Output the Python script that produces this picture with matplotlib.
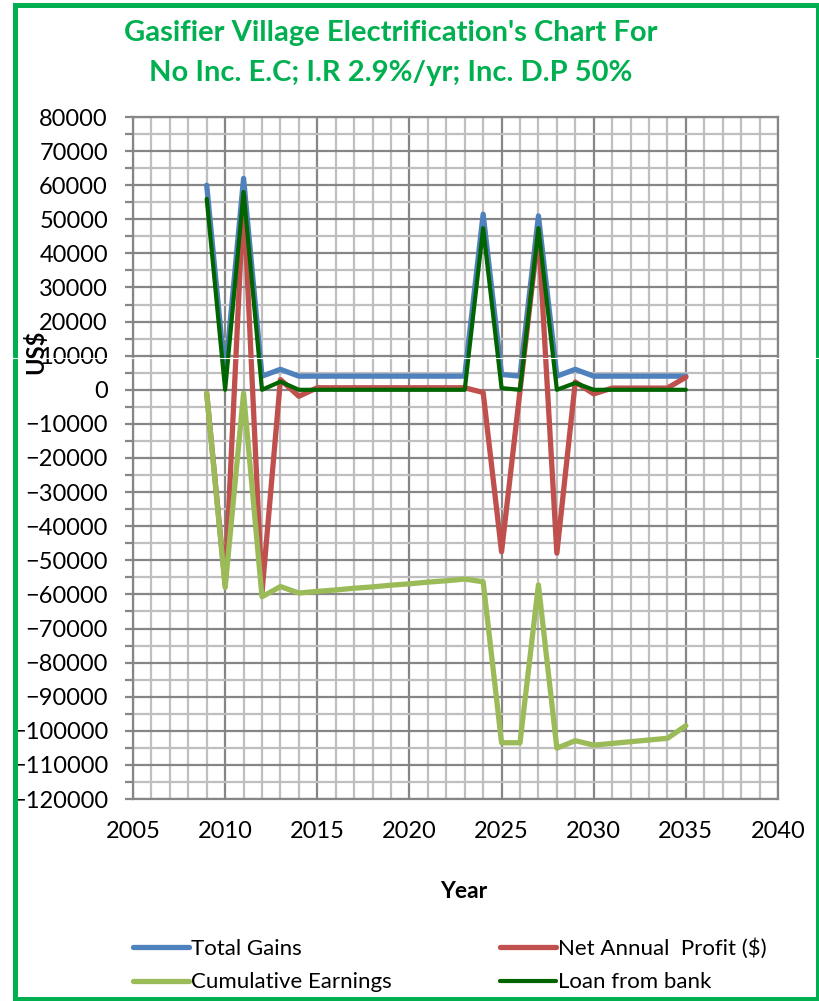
import matplotlib
matplotlib.use("Agg")
import matplotlib.pyplot as plt
from matplotlib.ticker import MultipleLocator
from matplotlib.patches import Rectangle
from matplotlib.lines import Line2D

plt.rcParams['font.family'] = ['Lato', 'DejaVu Sans']

years = list(range(2009, 2036))

total_gains = [60000, 4000, 62000, 4000, 6000, 4000, 4000, 4000, 4000, 4000,
               4000, 4000, 4000, 4000, 4000, 51500, 4500, 4000, 51000, 4000,
               6000, 4000, 4000, 4000, 4000, 4000, 4000]

net_profit = [-1000, -57000, 57000, -59500, 3000, -1900, 600, 600, 600, 600,
              600, 600, 600, 600, 600, -800, -47500, -300, 46300, -47900,
              2300, -1200, 500, 500, 500, 500, 3700]

cumulative = [-1000, -58000, -1000, -60700, -57700, -59600, -59100, -58700,
              -58200, -57800, -57300, -56900, -56400, -56000, -55500, -56300,
              -103500, -103500, -57200, -105100, -102900, -104200, -103700,
              -103200, -102700, -102200, -98500]

loan = [56000, 0, 58000, 0, 2400, 0, 0, 0, 0, 0, 0, 0, 0, 0, 0, 47400, 500,
        0, 47400, 0, 2000, 0, 0, 0, 0, 0, 0]

title_lines = ["Gasifier Village Electrification's Chart For",
               "No Inc. E.C; I.R 2.9%/yr; Inc. D.P 50%"]

W, H = 820, 1001
fig = plt.figure(figsize=(W / 100, H / 100), dpi=100)
ax = fig.add_axes([133 / W, 1 - 799 / H, (778 - 133) / W, (799 - 117) / H])

kw = dict(solid_capstyle='round', solid_joinstyle='round')
l1, = ax.plot(years, total_gains, color='#4F81BD', lw=3.8, label='Total Gains', **kw)
l2, = ax.plot(years, net_profit, color='#C0504D', lw=3.8, label='Net Annual  Profit ($)', **kw)
l3, = ax.plot(years, cumulative, color='#9BBB59', lw=3.8, label='Cumulative Earnings', **kw)
l4, = ax.plot(years, loan, color='#006400', lw=3.0, label='Loan from bank', **kw)

ax.set_xlim(2005, 2040)
ax.set_ylim(-120000, 80000)
ax.xaxis.set_major_locator(MultipleLocator(5))
ax.xaxis.set_minor_locator(MultipleLocator(1))
ax.yaxis.set_major_locator(MultipleLocator(10000))
ax.yaxis.set_minor_locator(MultipleLocator(5000))
ax.set_axisbelow(True)
ax.grid(which='major', color='#868686', lw=1.6)
ax.grid(which='minor', color='#BFBFBF', lw=1.6)
for s in ax.spines.values():
    s.set_color('#868686')
    s.set_linewidth(1.6)

ax.tick_params(axis='x', which='both', length=0, pad=16, labelsize=17)
ax.tick_params(axis='y', which='both', length=6, width=1.6, color='#868686',
               pad=12, labelsize=17)

fig.text(35 / W, 1 - 352 / H, 'US$', rotation=90, ha='center', va='center',
         fontsize=17, fontweight='bold')
fig.text(464 / W, 1 - 892 / H, 'Year', ha='center', va='center',
         fontsize=16.5, fontweight='bold')

fig.text(391 / W, 1 - 33 / H, title_lines[0], ha='center', va='center',
         fontsize=21, fontweight='bold', color='#00B050')
fig.text(391 / W, 1 - 73 / H, title_lines[1], ha='center', va='center',
         fontsize=21, fontweight='bold', color='#00B050')

leg = fig.legend([l1, l3, l2, l4], [l1.get_label(), l3.get_label(), l2.get_label(), l4.get_label()],
                 ncol=2, loc='upper left', bbox_to_anchor=(133 / W, 1 - 938 / H),
                 frameon=False, fontsize=16, handlelength=2.5, handletextpad=0.1,
                 columnspacing=4.9, borderpad=0, borderaxespad=0, labelspacing=0.62)

# outer frame of the chart
fig.add_artist(Rectangle((15 / W, 2 / H), 803 / W, 994 / H, transform=fig.transFigure,
                         fill=False, edgecolor='#00B050', lw=3.6))
fig.add_artist(Line2D([0, 1], [1 - 358 / H] * 2, transform=fig.transFigure,
                      color='white', lw=0.8))

fig.savefig('out.png', dpi=100)
